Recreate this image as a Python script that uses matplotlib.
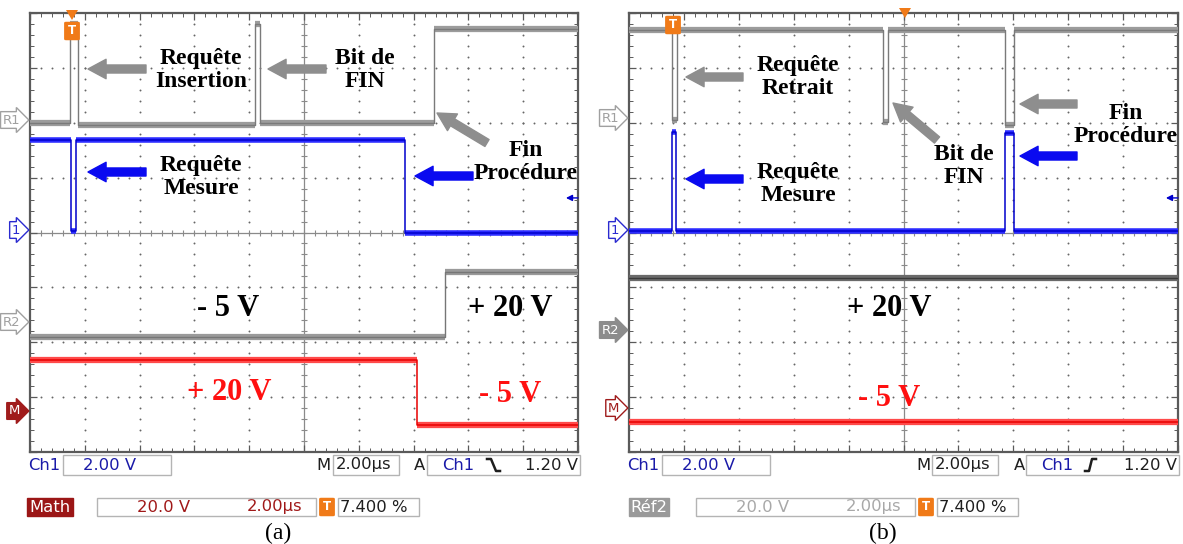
import matplotlib
matplotlib.use("Agg")
import matplotlib.pyplot as plt
from matplotlib.patches import FancyArrowPatch, Rectangle, Polygon, FancyBboxPatch
from matplotlib.lines import Line2D
import numpy as np

# ---------------- data (divisions: x 0..10, y 0..8) ----------------
# panel (a)
A_R1_t = [0.00, 0.73, 0.88, 4.10, 4.20, 7.37]
A_R1_v = [6.00, 7.80, 5.95, 7.80, 6.00, 7.70]
A_CH1_t = [0.00, 0.75, 0.84, 6.84]
A_CH1_v = [5.68, 4.02, 5.68, 4.00]
A_R2_t = [0.00, 7.57]
A_R2_v = [2.09, 3.28]
A_M_t = [0.00, 7.06]
A_M_v = [1.68, 0.49]
# panel (b)
B_R1_t = [0.00, 0.78, 0.87, 4.63, 4.72, 6.85, 7.01]
B_R1_v = [7.69, 6.05, 7.69, 6.01, 7.69, 5.96, 7.69]
B_CH1_t = [0.00, 0.78, 0.86, 6.85, 7.01]
B_CH1_v = [4.02, 5.83, 4.02, 5.81, 4.02]
B_R2_t = [0.00]
B_R2_v = [3.17]
B_M_t = [0.00]
B_M_v = [0.55]

STATUS_CH1 = "2.00 V"
STATUS_M = "2.00\u00b5s"
STATUS_TRIG = "1.20 V"
STATUS_VOLT2 = "20.0 V"
STATUS_TIME2 = "2.00\u00b5s"
STATUS_PCT = "7.400 %"

W, H = 1183, 544
fig = plt.figure(figsize=(W / 100, H / 100), dpi=100)
fig.patch.set_facecolor("white")


def fx(x):
    return x / W


def fy(y):
    return 1 - y / H


BLUE = "#0a0af0"
GRAY_ARW = "#8e8e8e"
RED = "#ff1010"
SERIF = "Liberation Serif"


def make_axes(x0, y0, x1, y1):
    ax = fig.add_axes([fx(x0), fy(y1), (x1 - x0) / W, (y1 - y0) / H])
    ax.set_xlim(0, 10)
    ax.set_ylim(0, 8)
    for s in ax.spines.values():
        s.set_color("#5a5a5a")
        s.set_linewidth(1.6)
    ax.set_xticks(np.arange(0, 11, 1))
    ax.set_yticks(np.arange(0, 9, 1))
    ax.set_xticks(np.arange(0, 10.01, 0.2), minor=True)
    ax.set_yticks(np.arange(0, 8.01, 0.2), minor=True)
    ax.tick_params(which="both", direction="in", top=True, right=True,
                   labelbottom=False, labelleft=False, color="#5a5a5a")
    ax.tick_params(which="major", length=5, width=0.9)
    ax.tick_params(which="minor", length=3, width=0.7)
    ys = np.arange(0.2, 8.0, 0.2)
    xs = np.arange(0.2, 10.0, 0.2)
    for gx in range(1, 10):
        if gx == 5:
            continue
        ax.plot([gx] * len(ys), ys, ls="none", marker="o", ms=1.4, mew=0,
                color="#666666", zorder=1)
    for gy in range(1, 8):
        if gy == 4:
            continue
        ax.plot(xs, [gy] * len(xs), ls="none", marker="o", ms=1.4, mew=0,
                color="#666666", zorder=1)
    ax.axvline(5, color="#8a8a8a", lw=0.9, zorder=1)
    ax.axhline(4, color="#8a8a8a", lw=0.9, zorder=1)
    ax.plot(xs, [4] * len(xs), ls="none", marker="|", ms=5, mew=0.8,
            color="#8a8a8a", zorder=1)
    ax.plot([5] * len(ys), ys, ls="none", marker="_", ms=5, mew=0.8,
            color="#8a8a8a", zorder=1)
    return ax


def trace(ax, t, v, band, core, lw_band=4.5, lw_core=1.2):
    t_end = list(t[1:]) + [10]
    ax.hlines(v, t, t_end, colors=band, lw=lw_band, zorder=3)
    ax.step(list(t) + [10], list(v) + [v[-1]], where="post", color=core,
            lw=lw_core, zorder=4)


axA = make_axes(30, 13, 578, 452)
axB = make_axes(629, 13, 1178, 452)

trace(axA, A_R1_t, A_R1_v, "#9c9c9c", "#7a7a7a", 4.5, 1.0)
trace(axA, A_CH1_t, A_CH1_v, "#2b2bff", "#0000cc", 4.0, 1.1)
trace(axA, A_R2_t, A_R2_v, "#9a9a9a", "#767676", 4.5, 1.0)
trace(axA, A_M_t, A_M_v, "#ff4a4a", "#e80000", 4.5, 1.1)

trace(axB, B_R1_t, B_R1_v, "#9c9c9c", "#7a7a7a", 4.5, 1.0)
trace(axB, B_CH1_t, B_CH1_v, "#2b2bff", "#0000cc", 4.0, 1.1)
trace(axB, B_R2_t, B_R2_v, "#6a6a6a", "#3a3a3a", 4.5, 1.0)
trace(axB, B_M_t, B_M_v, "#ff4a4a", "#e80000", 4.5, 1.1)

# right side trigger-level markers
for ax in (axA, axB):
    ax.annotate("", xy=(9.78, 4.63), xytext=(10.0, 4.63),
                arrowprops=dict(arrowstyle="-|>", color="#0000cc", lw=1.0,
                                mutation_scale=9, shrinkA=0, shrinkB=0),
                zorder=6)


# ---------------- left channel markers ----------------
def marker(x_right, y, text, fc, ec, tc):
    fig.text(fx(x_right), fy(y), text, ha="right", va="center", fontsize=9.5,
             color=tc, family="DejaVu Sans",
             bbox=dict(boxstyle="rarrow,pad=0.14", fc=fc, ec=ec, lw=1.0))


marker(20, 120, "R1", "white", "#a0a0a0", "#a0a0a0")
marker(20, 230, "1", "white", "#2a2ad0", "#2a2ad0")
marker(20, 322, "R2", "white", "#a0a0a0", "#a0a0a0")
marker(20, 411, "M", "#a01c1c", "#a01c1c", "white")

marker(619, 118, "R1", "white", "#a0a0a0", "#a0a0a0")
marker(619, 230, "1", "white", "#2a2ad0", "#2a2ad0")
marker(619, 330, "R2", "#8c8c8c", "#8c8c8c", "white")
marker(619, 408, "M", "white", "#a01c1c", "#a01c1c")


# ---------------- trigger markers ----------------
def trig_box(x, y):
    fig.patches.append(FancyBboxPatch((fx(x - 6), fy(y + 8)), 12 / W, 16 / H,
                                      boxstyle="round,pad=0.001",
                                      fc="#f07a18", ec="#f07a18",
                                      transform=fig.transFigure, zorder=10))
    fig.text(fx(x), fy(y), "T", ha="center", va="center", color="white",
             fontsize=8.5, fontweight="bold", zorder=11)


def trig_tri(x, y):
    fig.patches.append(Polygon([(fx(x - 6), fy(y - 5)), (fx(x + 6), fy(y - 5)),
                                (fx(x), fy(y + 5))], closed=True,
                               fc="#f07a18", ec="none",
                               transform=fig.transFigure, zorder=10))


trig_tri(72, 15)
trig_box(72, 31)
trig_tri(905, 13)
trig_box(673, 25)


# ---------------- annotations ----------------
def arrow(tail, head, color):
    a = FancyArrowPatch((fx(tail[0]), fy(tail[1])), (fx(head[0]), fy(head[1])),
                        arrowstyle="simple,head_length=13,head_width=14,tail_width=5.8",
                        mutation_scale=1, color=color, shrinkA=0, shrinkB=0,
                        transform=fig.transFigure, zorder=12)
    fig.patches.append(a)


def label(x, y, s, color="black", size=17):
    fig.text(fx(x), fy(y), s, ha="center", va="center", family=SERIF,
             fontweight="bold", fontsize=size, color=color, linespacing=1.13,
             multialignment="center", zorder=12)


# panel (a)
label(201, 70, "Requ\u00eate\nInsertion")
arrow((146, 69), (88, 69), GRAY_ARW)
label(365, 70, "Bit de\nFIN")
arrow((326, 69), (268, 69), GRAY_ARW)
label(201, 177, "Requ\u00eate\nMesure")
arrow((146, 172), (88, 172), BLUE)
label(526, 162, "Fin\nProc\u00e9dure")
arrow((473, 176), (415, 176), BLUE)
arrow((487, 143), (437, 113), GRAY_ARW)
label(228, 308, "- 5 V", size=22)
label(510, 308, "+ 20 V", size=22)
label(229, 393, "+ 20 V", color=RED, size=22)
label(510, 395, "- 5 V", color=RED, size=22)

# panel (b)
label(798, 77, "Requ\u00eate\nRetrait")
arrow((743, 77), (686, 77), GRAY_ARW)
label(798, 184, "Requ\u00eate\nMesure")
arrow((743, 179), (686, 179), BLUE)
label(964, 166, "Bit de\nFIN")
arrow((937, 140), (893, 103), GRAY_ARW)
label(1126, 125, "Fin\nProc\u00e9dure")
arrow((1077, 104), (1020, 104), GRAY_ARW)
arrow((1077, 156), (1020, 156), BLUE)
label(889, 308, "+ 20 V", size=22)
label(889, 398, "- 5 V", color=RED, size=22)


# ---------------- status bars ----------------
def box(x0, y0, x1, y1, ec="#b4b4b4"):
    fig.patches.append(Rectangle((fx(x0), fy(y1)), (x1 - x0) / W, (y1 - y0) / H,
                                 fill=False, ec=ec, lw=1.0,
                                 transform=fig.transFigure, zorder=5))


def stext(x, y, s, color, ha="left", size=11.8, **kw):
    fig.text(fx(x), fy(y), s, ha=ha, va="center", color=color, fontsize=size,
             family="DejaVu Sans", **kw)


SBLUE = "#1a1aa8"
SRED = "#a01818"
SBLK = "#1e1e1e"
SGRAY = "#a8a8a8"


def status(dx, rising, lab, lab_fc, v2col):
    # row 1
    stext(28 + dx, 465, "Ch1", SBLUE)
    box(63 + dx, 455, 171 + dx, 475)
    stext(83 + dx, 465, STATUS_CH1, SBLUE)
    stext(331 + dx, 465, "M", SBLK, ha="right")
    box(333 + dx, 455, 399 + dx, 475)
    stext(336 + dx, 465, STATUS_M, SBLK)
    stext(420 + dx, 465, "A", SBLK, ha="center")
    box(427 + dx, 455, 580 + dx, 475)
    stext(442 + dx, 465, "Ch1", SBLUE)
    if rising:
        xs = [486, 490, 493, 497]
        ys = [471, 471, 459, 459]
    else:
        xs = [487, 491, 496, 500]
        ys = [459, 459, 471, 471]
    fig.add_artist(Line2D([fx(v + dx) for v in xs], [fy(v) for v in ys],
                          color=SBLK, lw=1.8, transform=fig.transFigure))
    stext(578 + dx, 465, STATUS_TRIG, SBLK, ha="right")
    # row 2
    fig.text(fx(50 + dx), fy(507), lab, ha="center", va="center", color="white",
             fontsize=11.8, family="DejaVu Sans",
             bbox=dict(boxstyle="square,pad=0.12", fc=lab_fc, ec=lab_fc))
    box(97 + dx, 498, 316 + dx, 516)
    stext(137 + dx, 507, STATUS_VOLT2, v2col)
    stext(247 + dx, 507, STATUS_TIME2, v2col)
    fig.patches.append(FancyBboxPatch((fx(321 + dx), fy(515)), 12 / W, 16 / H,
                                      boxstyle="round,pad=0.001",
                                      fc="#f07a18", ec="#f07a18",
                                      transform=fig.transFigure, zorder=10))
    fig.text(fx(327 + dx), fy(507), "T", ha="center", va="center",
             color="white", fontsize=8.5, fontweight="bold", zorder=11)
    box(338 + dx, 498, 419 + dx, 516)
    stext(340 + dx, 507, STATUS_PCT, SBLK)


status(0, False, "Math", "#9b1616", SRED)
status(599, True, "R\u00e9f2", "#9a9a9a", SGRAY)

fig.text(fx(278), fy(533), "(a)", ha="center", va="center", family=SERIF,
         fontsize=17)
fig.text(fx(883), fy(533), "(b)", ha="center", va="center", family=SERIF,
         fontsize=17)

fig.savefig("out.png", dpi=100, facecolor="white")
